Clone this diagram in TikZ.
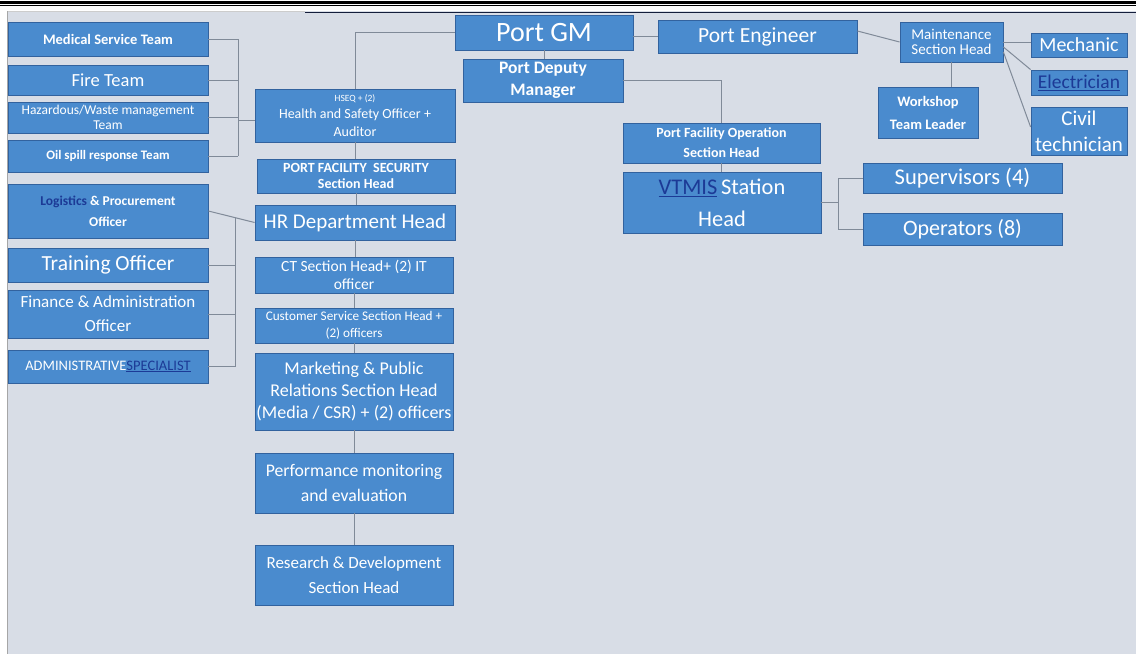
\documentclass[tikz,border=0pt]{standalone}
\usepackage{fontspec}
\setmainfont{Carlito}
\usetikzlibrary{calc}
\definecolor{pagebg}{RGB}{216,221,230}
\definecolor{boxfill}{RGB}{74,139,206}
\definecolor{boxedge}{RGB}{50,98,158}
\definecolor{linkblue}{RGB}{28,58,150}
\definecolor{wire}{RGB}{128,138,152}
\definecolor{navy}{RGB}{20,30,60}
% font size with its line pitch, both in pt
\newcommand{\fs}[2]{\fontsize{#1pt}{#2pt}\selectfont}
\tikzset{
  unit/.style={draw=boxedge, line width=0.8pt, fill=boxfill, text=white,
    align=center, inner sep=0pt, anchor=center},
  link/.style={draw=wire, line width=1pt},
}
\begin{document}
\begin{tikzpicture}[x=1pt, y=-1pt]
\useasboundingbox (0,0) rectangle (1136,654);
% page rules and canvas
\fill[black] (0,1) rectangle (1136,4);
\fill[black] (0,5) rectangle (1136,6.3);
\fill[pagebg] (7,11) rectangle (1136,654);
\draw[gray!70, line width=1pt] (7.5,11) -- (7.5,654);
\draw[gray!40, line width=1pt] (7.5,11.5) -- (305,11.5);
\draw[navy, line width=1.6pt] (305,12.5) -- (1136,12.5);

% left column: safety teams
\node[unit, minimum width=200pt, minimum height=34pt, font=\fs{14.5}{17}\bfseries] (med) at (108,39) {Medical Service Team};
\node[unit, minimum width=200pt, minimum height=30pt, font=\fs{18.5}{22}] (fire) at (108,80) {Fire Team};
\node[unit, minimum width=200pt, minimum height=31pt, font=\fs{13.5}{15.5}] (haz) at (108,117.5) {Hazardous/Waste management\\Team};
\node[unit, minimum width=200pt, minimum height=32pt, font=\fs{13}{16}\bfseries] (oil) at (108,156) {Oil spill response Team};

% left column: officers
\node[unit, minimum width=200pt, minimum height=54pt, font=\fs{13.5}{21}\bfseries] (log) at (108,211) {{\color{linkblue}Logistics} \& Procurement\\Officer};
\node[unit, minimum width=200pt, minimum height=34pt, font=\fs{21.5}{26}] (train) at (108,265) {Training Officer};
\node[unit, minimum width=200pt, minimum height=48pt, font=\fs{17}{24}] (fin) at (108,314) {Finance \& Administration\\Officer};
\node[unit, minimum width=200pt, minimum height=33pt, font=\fs{14.5}{17}] (adm) at (108,366.5) {ADMINISTRATIVE{\color{linkblue}\underline{SPECIALIST}}};

% centre column
\node[unit, minimum width=200pt, minimum height=53pt, font=\fs{14}{17.5}] (hseq) at (355,115.5) {{\fs{9.5}{14}HSEQ + (2)}\\Health and Safety Officer +\\Auditor};
\node[unit, minimum width=198pt, minimum height=34pt, font=\fs{14}{15.5}\bfseries] (pfs) at (356,176) {PORT FACILITY\ \ SECURITY\\Section Head};
\node[unit, minimum width=200pt, minimum height=35pt, font=\fs{21}{25}] (hr) at (355,222.5) {HR Department\ Head};
\node[unit, minimum width=198pt, minimum height=36pt, font=\fs{15.5}{17.5}] (ct) at (354,275) {CT Section Head+\ (2) IT\\officer};
\node[unit, minimum width=198pt, minimum height=35pt, font=\fs{13.2}{17}] (cust) at (354,325.5) {Customer Service Section Head +\\(2) officers};
\node[unit, minimum width=198pt, minimum height=77pt, font=\fs{18}{22}] (mkt) at (354,391.5) {Marketing \& Public\\Relations Section Head\\(Media / CSR) + (2) officers};
\node[unit, minimum width=198pt, minimum height=60pt, font=\fs{17.7}{25}] (perf) at (354,483) {Performance monitoring\\and evaluation};
\node[unit, minimum width=198pt, minimum height=60pt, font=\fs{17}{25}] (rd) at (354,575) {Research \& Development\\Section Head};

% management
\node[unit, minimum width=178pt, minimum height=35pt, font=\fs{28}{32}] (gm) at (544,32.5) {Port GM};
\node[unit, minimum width=199pt, minimum height=33pt, font=\fs{21.5}{25}] (eng) at (757.5,36.5) {Port Engineer};
\node[unit, minimum width=160pt, minimum height=43pt, font=\fs{17.5}{22.5}\bfseries] (dep) at (543,80.5) {Port Deputy\\Manager};
\node[unit, minimum width=197pt, minimum height=40pt, font=\fs{14}{20}\bfseries] (pfo) at (721.5,143) {Port Facility Operation\\Section Head};
\node[unit, minimum width=198pt, minimum height=61pt, font=\fs{22.4}{32}] (vtmis) at (722,202.5) {{\color{linkblue}\underline{VTMIS}}\,Station\\Head};
\node[unit, minimum width=199pt, minimum height=30pt, font=\fs{22.5}{26}] (sup) at (962.5,178) {Supervisors (4)};
\node[unit, minimum width=199pt, minimum height=32pt, font=\fs{22}{26}] (opr) at (962.5,229) {Operators (8)};

% maintenance branch
\node[unit, minimum width=103pt, minimum height=40pt, font=\fs{15}{15.5}] (mnt) at (951.5,42) {Maintenance\\Section Head};
\node[unit, minimum width=96pt, minimum height=24pt, font=\fs{20}{23}] (mech) at (1079,45) {Mechanic};
\node[unit, minimum width=96pt, minimum height=25pt, font=\fs{19.5}{23}] (elec) at (1079,82.5) {{\color{linkblue}\underline{Electrician}}};
\node[unit, minimum width=96pt, minimum height=48pt, font=\fs{21}{26}] (civ) at (1079,131) {Civil\\technician};
\node[unit, minimum width=100pt, minimum height=51pt, font=\fs{14.5}{23}\bfseries] (work) at (928,112.5) {Workshop\\Team Leader};

% bus joints
\coordinate (busA) at (238,39);
\coordinate (busB) at (235,217.6);
\coordinate (busC) at (838,178);

% connectors: safety teams
\draw[link] (med.east) -| (busA |- oil.east);
\draw[link] (fire.east) -- (fire.east -| busA);
\draw[link] (haz.east) -- (haz.east -| busA);
\draw[link] (oil.east) -- (oil.east -| busA);
\draw[link] ([yshift=-5pt]hseq.west) -- ([yshift=-5pt]hseq.west -| busA);

% connectors: officers
\draw[link] (log.east) -- (hr.west);
\draw[link] (busB) |- (adm.east);
\draw[link] (train.east) -- (train.east -| busB);
\draw[link] (fin.east) -- (fin.east -| busB);

% connectors: centre column
\draw[link] (gm.west) -| (hseq.north);
\draw[link] (hseq.south) -- (hseq.south |- pfs.north);
\draw[link] (pfs.south) -- (pfs.south |- hr.north);
\draw[link] (hr.south) -- (hr.south |- ct.north);
\draw[link] (ct.south) -- (ct.south |- cust.north);
\draw[link] (cust.south) -- (cust.south |- mkt.north);
\draw[link] (mkt.south) -- (mkt.south |- perf.north);
\draw[link] (perf.south) -- (perf.south |- rd.north);

% connectors: management
\draw[link] (gm.south) -- (gm.south |- dep.north);
\draw[link] (eng.west -| gm.east) -- (eng.west);
\draw[link] (dep.east) -| (pfo.north);
\draw[link] (pfo.south) -- (pfo.south |- vtmis.north);
\draw[link] (vtmis.east) -- (vtmis.east -| busC);
\draw[link] (sup.west) -- (busC) -- (opr.west -| busC) -- (opr.west);

% connectors: maintenance
\draw[link] ([yshift=5.5pt]eng.east) -- (mnt.west);
\draw[link] (mnt.east) -- (mnt.east -| mech.west);
\draw[link] ([yshift=-5pt]mnt.east) -- (elec.north west);
\draw[link] ([yshift=-10pt]mnt.east) -- ([yshift=4pt]civ.west);
\draw[link] (mnt.south) -- (mnt.south |- work.north);
\end{tikzpicture}
\end{document}
